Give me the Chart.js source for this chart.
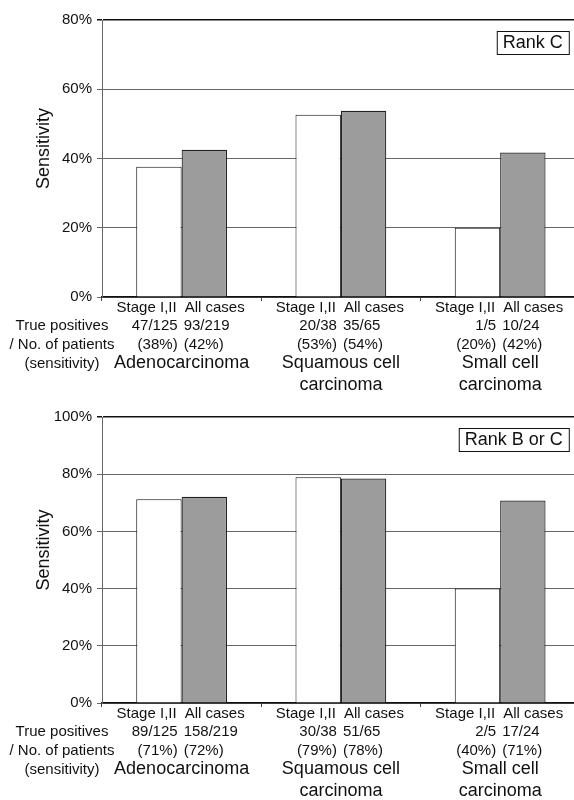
<!DOCTYPE html>
<html lang="en">
<head>
<meta charset="UTF-8">
<title>Sensitivity by histology</title>
<style>
  html, body { margin: 0; padding: 0; background: #fff; }
  .wrap { width: 574px; height: 800px; overflow: hidden; }
  canvas { display: block; }
</style>
</head>
<body>
<div class="wrap">
  <canvas id="rankC" width="593" height="398"></canvas>
  <canvas id="rankBC" width="593" height="402"></canvas>
</div>
<script src="https://cdn.jsdelivr.net/npm/chart.js"></script>
<script>
const groups = [['Adenocarcinoma'], ['Squamous cell', 'carcinoma'], ['Small cell', 'carcinoma']];
const seriesNames = ['Stage I,II', 'All cases'];
const rowNames = ['True positives', '/ No. of patients', '(sensitivity)'];

// Rank C
const rankCStage = [37.6, 52.6, 20.0];
const rankCAll = [42.5, 53.8, 41.7];
const rankCStageCounts = ['47/125', '20/38', '1/5'];
const rankCAllCounts = ['93/219', '35/65', '10/24'];
const rankCStagePct = ['(38%)', '(53%)', '(20%)'];
const rankCAllPct = ['(42%)', '(54%)', '(42%)'];

// Rank B or C
const rankBCStage = [71.2, 78.9, 40.0];
const rankBCAll = [72.1, 78.5, 70.8];
const rankBCStageCounts = ['89/125', '30/38', '2/5'];
const rankBCAllCounts = ['158/219', '51/65', '17/24'];
const rankBCStagePct = ['(71%)', '(79%)', '(40%)'];
const rankBCAllPct = ['(72%)', '(78%)', '(71%)'];

const FONT = '"Liberation Sans", Arial, Helvetica, sans-serif';
const INK = '#111';

// text rows under each pair of bars, plus the row names on the left
const detailRows = {
    id: 'detailRows',
    afterDraw(chart, args, opts) {
        const ctx = chart.ctx;
        const xs = chart.scales.x;
        const base = chart.chartArea.bottom;
        ctx.save();
        ctx.font = '15px ' + FONT;
        ctx.fillStyle = INK;
        ctx.textBaseline = 'middle';
        const rows = [
            [groups.map(() => seriesNames[0]), groups.map(() => seriesNames[1]), 10.5, 5, 3],
            [opts.stageCounts, opts.allCounts, 29, 4, 2],
            [opts.stagePct, opts.allPct, 47.7, 4, 2]
        ];
        for (let [left, right, dy, gl, gr] of rows) {
            for (let i = 0; i < groups.length; i++) {
                const c = xs.getPixelForValue(i);
                ctx.textAlign = 'right';
                ctx.fillText(left[i], c - gl, base + dy);
                ctx.textAlign = 'left';
                ctx.fillText(right[i], c + gr, base + dy);
            }
        }
        ctx.textAlign = 'center';
        const headY = [29, 47.7, 66.4];
        rowNames.forEach((t, i) => ctx.fillText(t, chart.chartArea.left - 40, base + headY[i]));
        ctx.restore();
    }
};

const rankBox = {
    id: 'rankBox',
    afterDraw(chart, args, opts) {
        const ctx = chart.ctx;
        const area = chart.chartArea;
        ctx.save();
        ctx.font = '18px ' + FONT;
        const w = ctx.measureText(opts.text).width + 12;
        const h = 23;
        const x = area.right - 11 - w;
        const y = area.top + 11;
        ctx.fillStyle = '#fff';
        ctx.fillRect(x, y, w, h);
        ctx.strokeStyle = INK;
        ctx.lineWidth = 1;
        ctx.strokeRect(x + 0.5, y + 0.5, w, h);
        ctx.fillStyle = INK;
        ctx.textAlign = 'center';
        ctx.textBaseline = 'middle';
        ctx.fillText(opts.text, x + w / 2, y + h / 2 + 1);
        ctx.restore();
    }
};

function makeChart(id, cfg) {
    return new Chart(document.getElementById(id), {
        type: 'bar',
        data: {
            labels: groups,
            datasets: [
                {
                    label: seriesNames[0],
                    data: cfg.stage,
                    backgroundColor: '#ffffff',
                    borderColor: INK,
                    borderWidth: 1
                },
                {
                    label: seriesNames[1],
                    data: cfg.all,
                    backgroundColor: '#9c9c9c',
                    borderColor: '#222',
                    borderWidth: 1.2
                }
            ]
        },
        options: {
            responsive: false,
            animation: false,
            events: [],
            categoryPercentage: 0.57,
            barPercentage: 1,
            layout: { padding: { top: cfg.top, right: 2, left: 0, bottom: 0 } },
            plugins: {
                legend: { display: false },
                tooltip: { enabled: false },
                detailRows: cfg.rows,
                rankBox: { text: cfg.rank }
            },
            scales: {
                x: {
                    afterFit: (s) => { s.height = cfg.xHeight },
                    grid: { drawOnChartArea: false, drawTicks: true, tickLength: 4, color: '#444' },
                    border: { display: true, color: INK, width: 1.5 },
                    ticks: {
                        color: INK,
                        autoSkip: false,
                        maxRotation: 0,
                        padding: 51,
                        font: { family: FONT, size: 18, lineHeight: 1.22 }
                    }
                },
                y: {
                    min: 0,
                    max: cfg.max,
                    afterFit: (s) => { s.width = 102 },
                    grid: {
                        color: (c) => c.tick && c.tick.value === cfg.max ? INK : '#666',
                        lineWidth: (c) => c.tick && c.tick.value === cfg.max ? 1.5 : 1,
                        tickLength: 5
                    },
                    border: { display: true, color: '#666', width: 1 },
                    ticks: {
                        stepSize: 20,
                        padding: 5,
                        color: INK,
                        font: { family: FONT, size: 15 },
                        callback: (v) => v + '%'
                    },
                    title: {
                        display: true,
                        text: '    Sensitivity',
                        color: INK,
                        padding: { top: 33, bottom: 0 },
                        font: { family: FONT, size: 18 }
                    }
                }
            }
        },
        plugins: [detailRows, rankBox]
    });
}

makeChart('rankC', {
    stage: rankCStage,
    all: rankCAll,
    max: 80,
    top: 20,
    xHeight: 101,
    rank: 'Rank C',
    rows: { stageCounts: rankCStageCounts, allCounts: rankCAllCounts, stagePct: rankCStagePct, allPct: rankCAllPct }
});

makeChart('rankBC', {
    stage: rankBCStage,
    all: rankBCAll,
    max: 100,
    top: 19,
    xHeight: 97,
    rank: 'Rank B or C',
    rows: { stageCounts: rankBCStageCounts, allCounts: rankBCAllCounts, stagePct: rankBCStagePct, allPct: rankBCAllPct }
});
</script>
</body>
</html>
